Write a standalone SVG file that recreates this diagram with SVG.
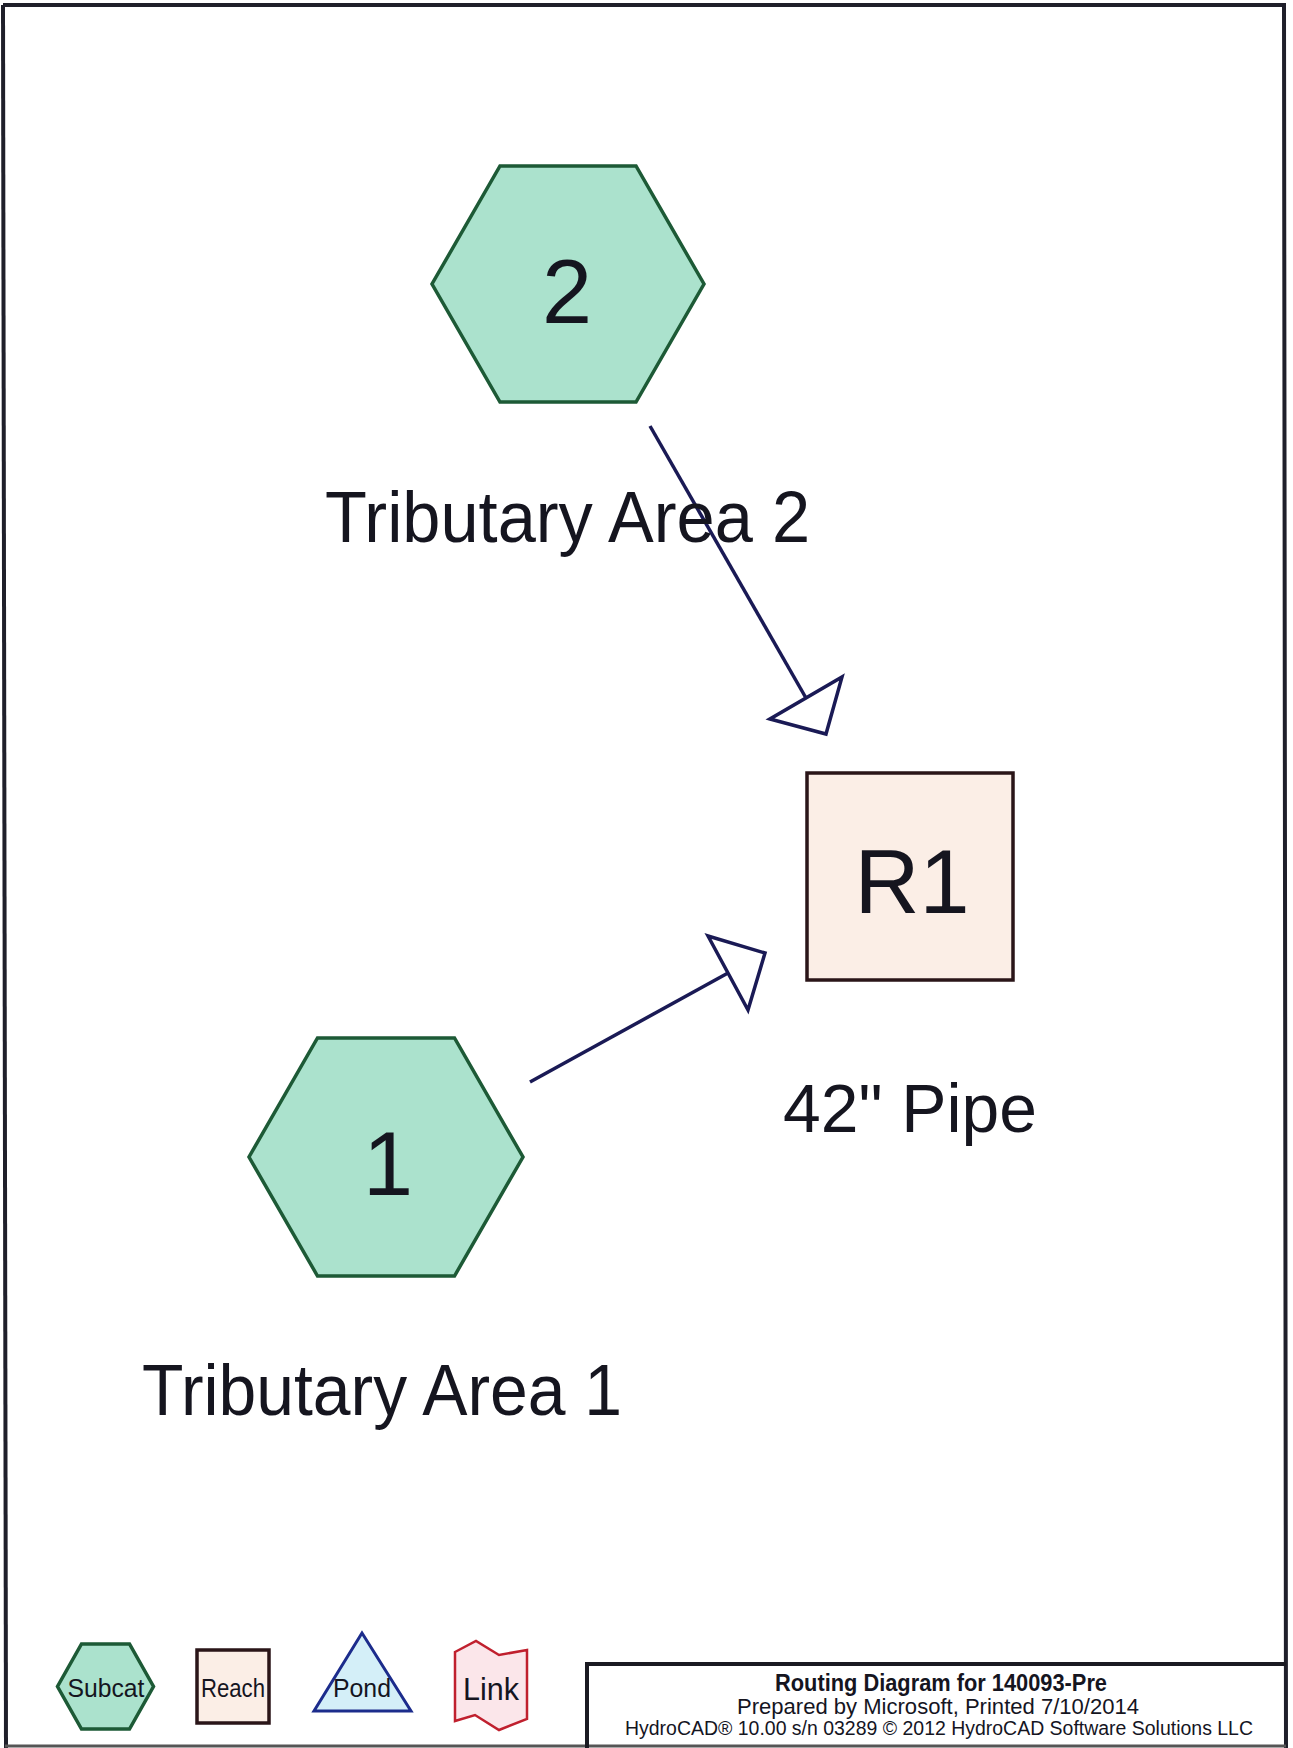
<svg xmlns="http://www.w3.org/2000/svg" width="1293" height="1748" viewBox="0 0 1293 1748">
<style>
text{font-family:"Liberation Sans",Arial,sans-serif;fill:#15151f}
.subcat{fill:#abe2cd;stroke:#1d5a36;stroke-width:3.5;stroke-linejoin:miter}
.reach{fill:#fbeee6;stroke:#2a1518;stroke-width:3.5}
.conn{stroke:#1a1a55;stroke-width:3.5;fill:none}
.head{stroke:#1a1a55;stroke-width:3.5;fill:#fff;stroke-linejoin:miter}
.big{font-size:90px}
.lbl{font-size:72px}
.leg{font-size:26px}
</style>
<rect width="1293" height="1748" fill="#fff"/>
<g id="page-border">
<path d="M3,5 L1284,5 L1286,1748" fill="none" stroke="#1f1f2a" stroke-width="4"/>
<path d="M3,5 L6,1748" fill="none" stroke="#1f1f2a" stroke-width="4"/>
<path d="M5,1746 L1286,1746" fill="none" stroke="#555" stroke-width="3"/>
</g>
<g id="connectors">
<line class="conn" x1="650" y1="426" x2="806" y2="698"/>
<polygon class="head" points="770,719 826,734 842,677"/>
<line class="conn" x1="530" y1="1082" x2="728" y2="973"/>
<polygon class="head" points="708,936 765,953 748,1010"/>
</g>
<g id="node-2">
<polygon class="subcat" points="500,166 636,166 704,284 636,402 500,402 432,284"/>
<text class="big" x="567" y="323" text-anchor="middle">2</text>
<text class="lbl" x="325" y="542" textLength="485" lengthAdjust="spacingAndGlyphs">Tributary Area 2</text>
</g>
<g id="node-1">
<polygon class="subcat" points="317.5,1038 454.5,1038 523,1157 454.5,1276 317.5,1276 249,1157"/>
<text class="big" x="388" y="1195" text-anchor="middle">1</text>
<text class="lbl" x="142" y="1415" textLength="480" lengthAdjust="spacingAndGlyphs">Tributary Area 1</text>
</g>
<g id="node-R1">
<rect class="reach" x="807" y="773" width="206" height="207"/>
<text class="big" x="912" y="913" text-anchor="middle">R1</text>
<text x="783" y="1132" font-size="68" textLength="254" lengthAdjust="spacingAndGlyphs">42" Pipe</text>
</g>
<g id="legend">
<g id="legend-subcat">
<polygon class="subcat" points="81.5,1644 129.5,1644 153.5,1686.5 129.5,1729 81.5,1729 57.5,1686.5" stroke-width="3"/>
<text class="leg" x="106" y="1697" text-anchor="middle" textLength="77" lengthAdjust="spacingAndGlyphs">Subcat</text>
</g>
<g id="legend-reach">
<rect class="reach" x="197" y="1650" width="72" height="73" stroke-width="2.5"/>
<text class="leg" x="233" y="1697" text-anchor="middle" textLength="64" lengthAdjust="spacingAndGlyphs">Reach</text>
</g>
<g id="legend-pond">
<polygon points="362,1633 314,1711 411,1711" fill="#d4eff8" stroke="#1c2c8c" stroke-width="3"/>
<text class="leg" x="362" y="1697" text-anchor="middle" textLength="58" lengthAdjust="spacingAndGlyphs">Pond</text>
</g>
<g id="legend-link">
<polygon points="455,1652 476,1641 499,1655 527,1650 527,1719 499,1730 475,1715 455,1721" fill="#fbe6ea" stroke="#c0202e" stroke-width="2.5"/>
<text x="491" y="1700" font-size="31" text-anchor="middle" textLength="56" lengthAdjust="spacingAndGlyphs">Link</text>
</g>
</g>
<g id="title-block">
<path d="M587,1748 L587,1664 L1286,1664" fill="none" stroke="#1a1a22" stroke-width="4"/>
<text x="941" y="1691" font-size="23" font-weight="bold" text-anchor="middle" textLength="332" lengthAdjust="spacingAndGlyphs">Routing Diagram for 140093-Pre</text>
<text x="938" y="1714" font-size="22" text-anchor="middle" textLength="402" lengthAdjust="spacingAndGlyphs">Prepared by Microsoft,  Printed 7/10/2014</text>
<text x="939" y="1735" font-size="20" text-anchor="middle" textLength="628" lengthAdjust="spacingAndGlyphs">HydroCAD® 10.00  s/n 03289  © 2012 HydroCAD Software Solutions LLC</text>
</g>
</svg>
